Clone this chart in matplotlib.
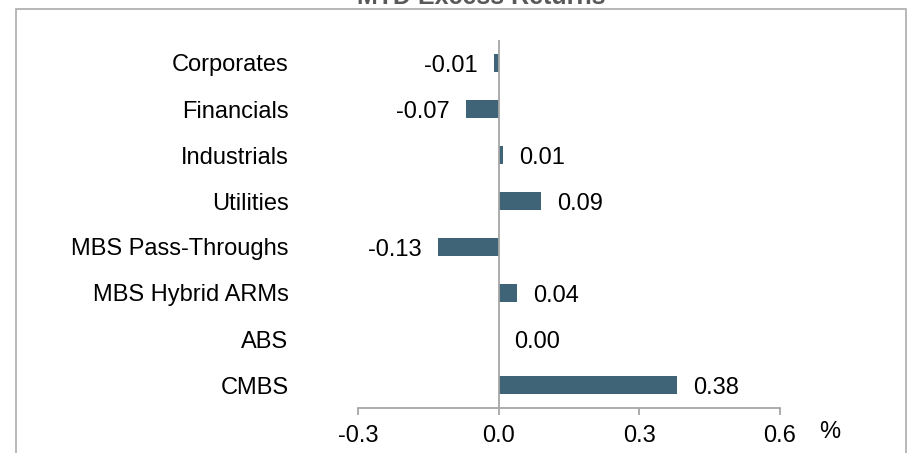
import matplotlib
matplotlib.use("Agg")
import matplotlib.pyplot as plt
from matplotlib.patches import Rectangle

categories = ["Corporates", "Financials", "Industrials", "Utilities",
              "MBS Pass-Throughs", "MBS Hybrid ARMs", "ABS", "CMBS"]
values = [-0.01, -0.07, 0.01, 0.09, -0.13, 0.04, 0.00, 0.38]
xticks = [-0.3, 0.0, 0.3, 0.6]
xtick_labels = ["-0.3", "0.0", "0.3", "0.6"]
title = "MTD Excess Returns"

plt.rcParams['font.family'] = ['Liberation Sans', 'DejaVu Sans']
W, H = 909, 453
fig = plt.figure(figsize=(W / 100, H / 100), dpi=100)

# outer border
fig.patches.append(Rectangle((16 / W, -0.1), (906 - 16) / W, (453 - 9) / H + 0.1,
                             transform=fig.transFigure, fill=False,
                             edgecolor='#ABABAB', linewidth=1.2))

ax = fig.add_axes([358 / W, 1 - 408 / H, (780 - 358) / W, (408 - 40) / H])
bar_color = '#3F6477'
ypos = list(range(len(categories)))
ax.barh(ypos, values, height=0.4, color=bar_color, zorder=2)
ax.set_ylim(len(categories) - 0.5, -0.5)
ax.set_xlim(-0.3, 0.6)

for s in ['top', 'right', 'left']:
    ax.spines[s].set_visible(False)
ax.spines['bottom'].set_color('#A6A6A6')
ax.spines['bottom'].set_linewidth(1.3)
ax.axvline(0, color='#A6A6A6', linewidth=1.3, zorder=3)

ax.set_xticks(xticks)
ax.set_xticklabels(xtick_labels)
ax.tick_params(axis='x', direction='out', length=5, width=1.3, color='#A6A6A6',
               labelsize=17, pad=7)
ax.set_yticks(ypos)
ax.set_yticklabels(categories)
ax.tick_params(axis='y', length=0, labelsize=17, pad=50)

off = 0.034
for y, v in zip(ypos, values):
    lbl = f"{v:.2f}"
    if v < 0:
        ax.text(v - off, y, lbl, ha='right', va='center_baseline', fontsize=17)
    else:
        ax.text(v + off, y, lbl, ha='left', va='center_baseline', fontsize=17)

fig.text(830 / W, 1 - 432 / H, "%", ha='center', va='center', fontsize=17)
fig.text(481 / W, 1 - 4 / H, title, ha='center', va='baseline', fontsize=18,
         fontweight='bold', color='#595959')

fig.savefig("out.png", dpi=100)
